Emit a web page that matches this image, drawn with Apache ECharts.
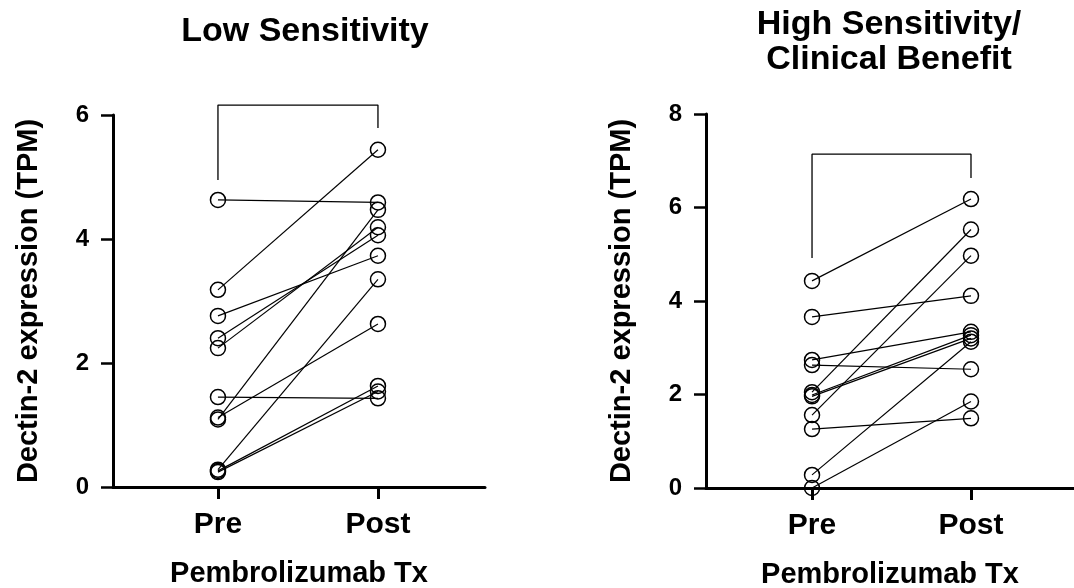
<!DOCTYPE html>
<html>
<head>
<meta charset="utf-8">
<script src="https://cdn.jsdelivr.net/npm/echarts@6/dist/echarts.min.js"></script>
<style>
  html, body { margin: 0; padding: 0; background: #fff; }
  #chart { width: 1074px; height: 588px; }
</style>
</head>
<body>
<div id="chart"></div>
<script>
// Pre / Post paired values, one entry per patient
const timepoints = ["Pre", "Post"];
const lowPre = [4.63, 3.18, 2.76, 2.40, 2.24, 1.45, 1.12, 1.09, 0.28, 0.26, 0.24];
const lowPost = [4.59, 5.44, 3.73, 4.06, 4.19, 1.43, 2.63, 4.47, 3.35, 1.63, 1.54];
const highPre = [4.43, 3.66, 2.74, 2.63, 2.05, 1.99, 1.96, 1.56, 1.26, 0.28, 0.0];
const highPost = [6.18, 4.11, 3.34, 2.54, 5.53, 3.27, 3.20, 4.97, 1.49, 3.13, 1.85];

// significance brackets: [timepoint, value]
const lowBracket = [[1, 4.95], [1, 6.16], [2, 6.16], [2, 5.79]];
const highBracket = [[1, 4.92], [1, 7.14], [2, 7.14], [2, 6.63]];

const FONT = "'Liberation Sans', Arial, sans-serif";

function pairSeries(pre, post, idx) {
  return pre.map((v, i) => ({
    type: "line",
    xAxisIndex: idx,
    yAxisIndex: idx,
    data: [[1, v], [2, post[i]]],
    symbol: "circle",
    symbolSize: 15,
    lineStyle: { color: "#000", width: 1.2 },
    itemStyle: { color: "rgba(0,0,0,0)", borderColor: "#000", borderWidth: 1.5 },
    emphasis: { disabled: true },
    silent: true,
  }));
}

function bracketSeries(data, idx) {
  return {
    type: "line",
    xAxisIndex: idx,
    yAxisIndex: idx,
    data: data,
    symbol: "none",
    clip: false,
    lineStyle: { color: "#000", width: 1.3 },
    silent: true,
  };
}

function xAxis(idx, min, max) {
  return {
    type: "value",
    gridIndex: idx,
    min: min,
    max: max,
    name: "Pembrolizumab Tx",
    nameLocation: "middle",
    nameGap: 72,
    nameTextStyle: { fontFamily: FONT, fontWeight: "bold", fontSize: 29, color: "#000" },
    axisLine: { onZero: false, lineStyle: { color: "#000", width: 3 } },
    axisTick: { customValues: [1, 2], length: 12, lineStyle: { color: "#000", width: 3 } },
    axisLabel: {
      customValues: [1, 2],
      margin: 23,
      fontFamily: FONT, fontWeight: "bold", fontSize: 30, color: "#000",
      formatter: (v) => timepoints[Math.round(v) - 1],
    },
    splitLine: { show: false },
  };
}

function yAxis(idx, max) {
  return {
    type: "value",
    gridIndex: idx,
    min: 0,
    max: max,
    interval: 2,
    name: "Dectin-2 expression (TPM)",
    nameLocation: "middle",
    nameGap: 70,
    nameTextStyle: { fontFamily: FONT, fontWeight: "bold", fontSize: 29, color: "#000" },
    axisLine: { show: true, onZero: false, lineStyle: { color: "#000", width: 3 } },
    axisTick: { show: true, length: 12, lineStyle: { color: "#000", width: 2.5 } },
    axisLabel: { margin: 24, fontFamily: FONT, fontWeight: "bold", fontSize: 24, color: "#000" },
    splitLine: { show: false },
  };
}

const chart = echarts.init(document.getElementById("chart"));
chart.setOption({
  animation: false,
  backgroundColor: "#fff",
  title: [
    {
      text: "Low Sensitivity",
      left: 300, top: 10, textAlign: "center",
      textStyle: { fontFamily: FONT, fontWeight: "bold", fontSize: 34, color: "#000" },
    },
    {
      text: "High Sensitivity/\nClinical Benefit",
      left: 884, top: 2, textAlign: "center",
      textStyle: { fontFamily: FONT, fontWeight: "bold", fontSize: 34, lineHeight: 35, color: "#000" },
    },
  ],
  grid: [
    { left: 113, right: 589, top: 115, bottom: 101, outerBoundsMode: "none" },
    { left: 706, right: 0, top: 114, bottom: 100, outerBoundsMode: "none" },
  ],
  xAxis: [xAxis(0, 0.344, 2.669), xAxis(1, 0.333, 2.648)],
  yAxis: [yAxis(0, 6), yAxis(1, 8)],
  series: [
    bracketSeries(lowBracket, 0),
    bracketSeries(highBracket, 1),
    ...pairSeries(lowPre, lowPost, 0),
    ...pairSeries(highPre, highPost, 1),
  ],
});
</script>
</body>
</html>
